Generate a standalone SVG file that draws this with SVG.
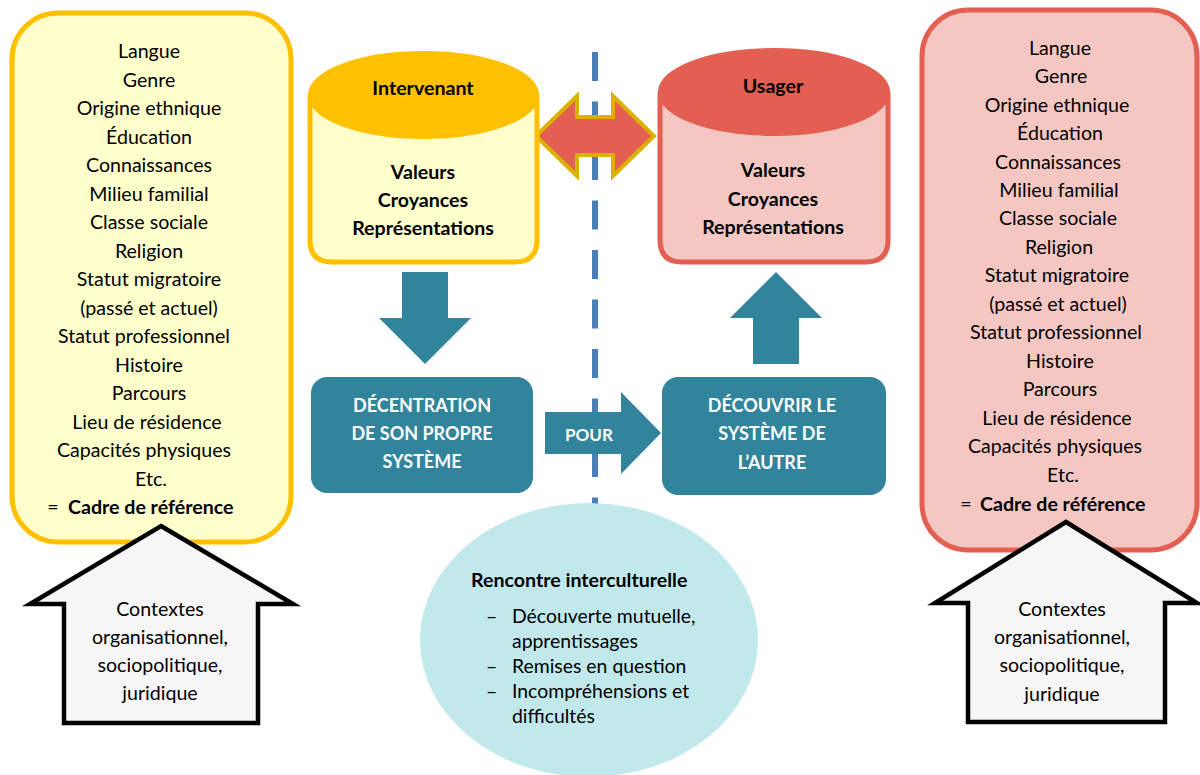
<svg xmlns="http://www.w3.org/2000/svg" width="1200" height="775" viewBox="0 0 1200 775">
<style>
text{font-family:Lato,"Liberation Sans",sans-serif;fill:#000;}
.t{font-size:19.6px;text-anchor:middle;}
.b{font-size:19.6px;font-weight:bold;}
.bc{font-size:19.6px;font-weight:bold;text-anchor:middle;}
.w{font-size:18px;font-weight:bold;text-anchor:middle;fill:#fff;}
.p{font-size:17px;font-weight:bold;text-anchor:middle;fill:#fff;}
.e{font-size:19.4px;}
.teal{fill:#31849B;}
.house{fill:#F6F6F6;stroke:#000;stroke-width:4.5;stroke-linejoin:miter;}
</style>
<rect width="1200" height="775" fill="#fff"/>

<g id="connectors">
  <line x1="595" y1="52" x2="595" y2="506" stroke="#4A7EBB" stroke-width="6" stroke-dasharray="29,20.5"/>
  <path class="teal" d="M402,272 L448,272 L448,318 L471,318 L425,364 L379,318 L402,318 Z"/>
  <path class="teal" d="M776,272 L822,318 L799,318 L799,364 L753,364 L753,318 L730,318 Z"/>
  <path class="teal" d="M545,412 L621,412 L621,392 L661,433 L621,474 L621,454 L545,454 Z"/>
  <text class="p" x="589" y="441">POUR</text>
  <path d="M536,136 L577,96 L577,117 L613,117 L613,96 L654,136 L613,176 L613,155 L577,155 L577,176 Z" fill="#E35F52" stroke="#DDB000" stroke-width="4" stroke-linejoin="miter"/>
</g>

<g id="left-frame">
  <rect x="12" y="13" width="279" height="529" rx="46" fill="#FFFFCC" stroke="#FFC000" stroke-width="5"/>
  <text class="t" x="149" y="58">Langue</text>
  <text class="t" x="149" y="87">Genre</text>
  <text class="t" x="149" y="115">Origine ethnique</text>
  <text class="t" x="149" y="144">Éducation</text>
  <text class="t" x="149" y="172">Connaissances</text>
  <text class="t" x="149" y="201">Milieu familial</text>
  <text class="t" x="149" y="229">Classe sociale</text>
  <text class="t" x="149" y="258">Religion</text>
  <text class="t" x="149" y="286">Statut migratoire</text>
  <text class="t" x="149" y="315">(passé et actuel)</text>
  <text class="t" x="144" y="343">Statut professionnel</text>
  <text class="t" x="149" y="372">Histoire</text>
  <text class="t" x="149" y="400">Parcours</text>
  <text class="t" x="147" y="429">Lieu de résidence</text>
  <text class="t" x="144" y="457">Capacités physiques</text>
  <text class="t" x="151" y="486">Etc.</text>
  <text class="t" x="53" y="514">=</text>
  <text class="b" x="68" y="514">Cadre de référence</text>
</g>

<g id="left-context">
  <path class="house" d="M161,526 L293,604 L258,604 L258,723 L64,723 L64,604 L30,604 Z"/>
  <text class="t" x="160" y="616">Contextes</text>
  <text class="t" x="160" y="644">organisationnel,</text>
  <text class="t" x="160" y="672">sociopolitique,</text>
  <text class="t" x="160" y="700">juridique</text>
</g>

<g id="right-frame">
  <rect x="922" y="10" width="275" height="540" rx="46" fill="#F5C7C2" stroke="#E35F52" stroke-width="5"/>
  <text class="t" x="1060" y="55">Langue</text>
  <text class="t" x="1061" y="83">Genre</text>
  <text class="t" x="1057" y="112">Origine ethnique</text>
  <text class="t" x="1060" y="140">Éducation</text>
  <text class="t" x="1058" y="169">Connaissances</text>
  <text class="t" x="1059" y="197">Milieu familial</text>
  <text class="t" x="1058" y="225">Classe sociale</text>
  <text class="t" x="1059" y="254">Religion</text>
  <text class="t" x="1057" y="282">Statut migratoire</text>
  <text class="t" x="1058" y="311">(passé et actuel)</text>
  <text class="t" x="1056" y="339">Statut professionnel</text>
  <text class="t" x="1060" y="368">Histoire</text>
  <text class="t" x="1060" y="396">Parcours</text>
  <text class="t" x="1057" y="425">Lieu de résidence</text>
  <text class="t" x="1055" y="453">Capacités physiques</text>
  <text class="t" x="1063" y="482">Etc.</text>
  <text class="t" x="966" y="511">=</text>
  <text class="b" x="980" y="511">Cadre de référence</text>
</g>

<g id="right-context">
  <path class="house" d="M1066,522 L1197,603 L1165,603 L1165,722 L968,722 L968,603 L935,603 Z"/>
  <text class="t" x="1062" y="616">Contextes</text>
  <text class="t" x="1062" y="644">organisationnel,</text>
  <text class="t" x="1062" y="672">sociopolitique,</text>
  <text class="t" x="1062" y="701">juridique</text>
</g>

<g id="intervenant">
  <path d="M310,95 L310,240 Q310,262 332,262 L515,262 Q537,262 537,240 L537,95" fill="#FFFFCC" stroke="#FFC000" stroke-width="5"/>
  <ellipse cx="423.5" cy="95" rx="113.5" ry="42" fill="#FFC000" stroke="#FFC000" stroke-width="4"/>
  <text class="bc" x="423" y="95">Intervenant</text>
  <text class="bc" x="423" y="179">Valeurs</text>
  <text class="bc" x="423" y="207">Croyances</text>
  <text class="bc" x="423" y="235">Représentations</text>
</g>

<g id="usager">
  <path d="M660,92 L660,240 Q660,262 682,262 L866,262 Q888,262 888,240 L888,92" fill="#F5C7C2" stroke="#E35F52" stroke-width="5"/>
  <ellipse cx="774" cy="92" rx="114" ry="42" fill="#E35F52" stroke="#E35F52" stroke-width="4"/>
  <text class="bc" x="773" y="93">Usager</text>
  <text class="bc" x="773" y="177">Valeurs</text>
  <text class="bc" x="773" y="206">Croyances</text>
  <text class="bc" x="773" y="234">Représentations</text>
</g>

<g id="decentration">
  <rect class="teal" x="311" y="377" width="222" height="116" rx="16"/>
  <text class="w" x="422" y="412">DÉCENTRATION</text>
  <text class="w" x="422" y="440">DE SON PROPRE</text>
  <text class="w" x="422" y="468">SYSTÈME</text>
</g>

<g id="decouvrir">
  <rect class="teal" x="662" y="377" width="224" height="118" rx="16"/>
  <text class="w" x="772" y="412">DÉCOUVRIR LE</text>
  <text class="w" x="772" y="440">SYSTÈME DE</text>
  <text class="w" x="772" y="469">L’AUTRE</text>
</g>

<g id="rencontre">
  <ellipse cx="589" cy="640" rx="169" ry="137" fill="#C1E9EC"/>
  <text class="b" x="471" y="587">Rencontre interculturelle</text>
  <text class="e" x="486" y="623">–</text>
  <text class="e" x="512" y="623">Découverte mutuelle,</text>
  <text class="e" x="512" y="648">apprentissages</text>
  <text class="e" x="486" y="673">–</text>
  <text class="e" x="512" y="673">Remises en question</text>
  <text class="e" x="486" y="698">–</text>
  <text class="e" x="512" y="698">Incompréhensions et</text>
  <text class="e" x="512" y="723">difficultés</text>
</g>
</svg>
